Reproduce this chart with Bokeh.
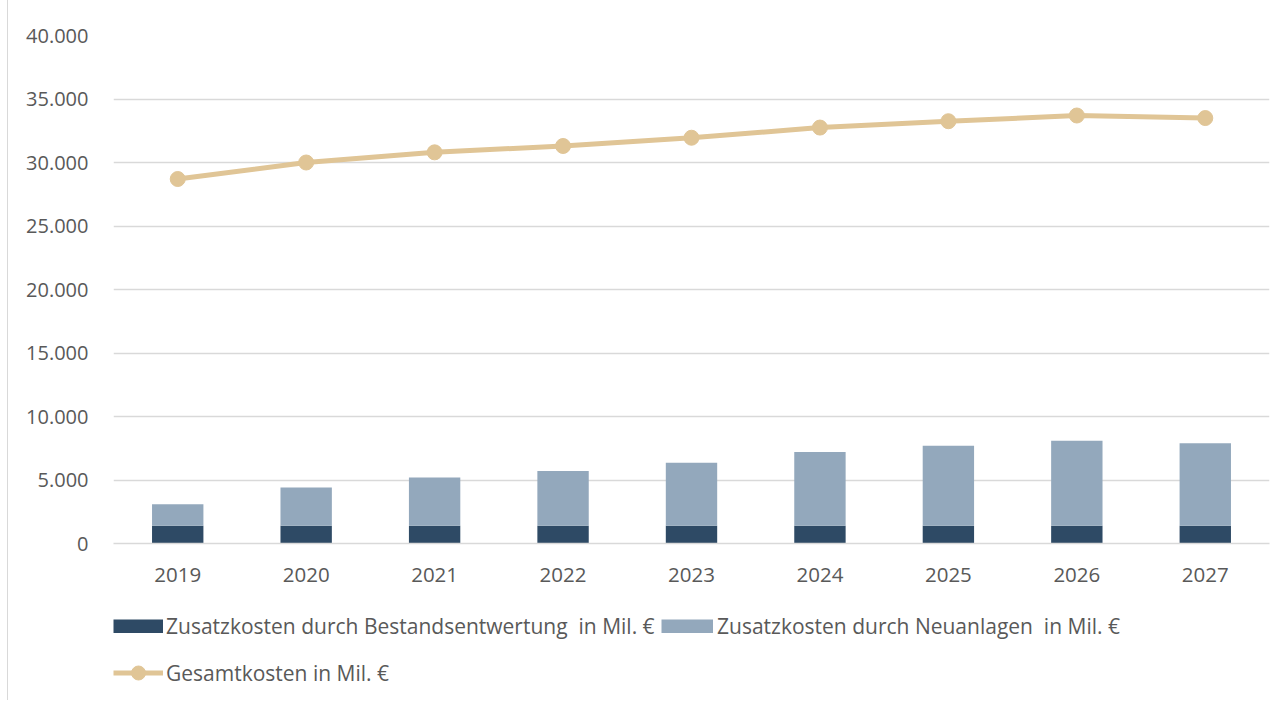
from bokeh.plotting import figure
from bokeh.layouts import column
from bokeh.models import (FactorRange, Range1d, FixedTicker, CustomJSTickFormatter,
                          Legend, LegendItem, ColumnDataSource)
from bokeh.embed import file_html
from bokeh.resources import INLINE

years = ["2019", "2020", "2021", "2022", "2023", "2024", "2025", "2026", "2027"]
bestand = [1400, 1400, 1400, 1400, 1400, 1400, 1400, 1400, 1400]
neu = [1700, 3000, 3800, 4300, 4950, 5800, 6300, 6700, 6500]
gesamt = [28700, 30000, 30800, 31300, 31950, 32750, 33250, 33700, 33500]
y_ticks = [0, 5000, 10000, 15000, 20000, 25000, 30000, 35000, 40000]

label_bestand = "Zusatzkosten durch Bestandsentwertung  in Mil. €"
label_neu = "Zusatzkosten durch Neuanlagen  in Mil. €"
label_ges = "Gesamtkosten in Mil. €"

FONT = "Open Sans"
TXT = "#595959"
DARK = "#2E4A65"
LIGHT = "#93A8BC"
GOLD = "#E0C596"
GRID = "#D9D9D9"
BORDER = {"background": "linear-gradient(to right, transparent 7px, #d9d9d9 7px, #d9d9d9 8px, transparent 8px)"}

src = ColumnDataSource(dict(years=years, bestand=bestand, neu=neu, gesamt=gesamt))

# ---- main chart ----
p = figure(width=1275, height=600, x_range=FactorRange(*years), y_range=Range1d(0, 40000),
           output_backend="svg", toolbar_location=None,
           min_border_left=113, min_border_right=6, min_border_top=35, min_border_bottom=57)
p.outline_line_color = None
p.border_fill_alpha = 0
p.styles = BORDER
p.xgrid.grid_line_color = None
p.ygrid.grid_line_color = GRID
p.ygrid.grid_line_width = 1.3

p.vbar_stack(["bestand", "neu"], x="years", width=0.4, source=src,
             color=[DARK, LIGHT], line_color=None)
p.line(x="years", y="gesamt", source=src, line_color=GOLD, line_width=5)
p.scatter(x="years", y="gesamt", source=src, size=15, marker="circle",
          fill_color=GOLD, line_color=GOLD)

xa = p.xaxis[0]
xa.axis_line_color = GRID
xa.axis_line_width = 1.5
xa.major_tick_line_color = None
xa.minor_tick_line_color = None
xa.major_label_standoff = 18
xa.major_label_text_font = FONT
xa.major_label_text_font_size = "20.5px"
xa.major_label_text_color = TXT

ya = p.yaxis[0]
ya.axis_line_color = None
ya.major_tick_line_color = None
ya.minor_tick_line_color = None
ya.ticker = FixedTicker(ticks=y_ticks)
ya.formatter = CustomJSTickFormatter(
    code="return tick.toFixed(0).replace(/\\B(?=(\\d{3})+(?!\\d))/g, '.');")
ya.major_label_standoff = 19
ya.major_label_text_font = FONT
ya.major_label_text_font_size = "20px"
ya.major_label_text_color = TXT

# ---- legend strip: hidden key renderers of the same series ----
lg_fig = figure(width=1275, height=100, x_range=FactorRange(*years), y_range=Range1d(-2, -1),
                output_backend="svg", toolbar_location=None,
                x_axis_type=None, y_axis_type=None,
                min_border_left=0, min_border_right=0, min_border_top=0, min_border_bottom=0)
lg_fig.outline_line_color = None
lg_fig.border_fill_alpha = 0
lg_fig.background_fill_alpha = 0
lg_fig.styles = BORDER
lg_fig.grid.visible = False

k_b = lg_fig.line(x="years", y="bestand", source=src, line_color=DARK, line_width=14, visible=False)
k_n = lg_fig.line(x="years", y="neu", source=src, line_color=LIGHT, line_width=14, visible=False)
k_l = lg_fig.line(x="years", y="gesamt", source=src, line_color=GOLD, line_width=5, visible=False)
k_d = lg_fig.scatter(x="years", y="gesamt", source=src, marker="circle",
                     fill_color=GOLD, line_color=GOLD, visible=False)


def mk_legend(items, loc, gw, gh, standoff):
    return Legend(items=items, orientation="horizontal", location=loc,
                  glyph_width=gw, glyph_height=gh, label_standoff=standoff, spacing=0,
                  padding=0, margin=0, border_line_color=None, background_fill_alpha=0,
                  label_text_font=FONT, label_text_font_size="21px", label_text_color=TXT,
                  label_height=20)


lg_fig.add_layout(mk_legend([LegendItem(label=label_bestand, renderers=[k_b])],
                            (0, 60), 50, 14, 3), "center")
lg_fig.add_layout(mk_legend([LegendItem(label=label_neu, renderers=[k_n])],
                            (548, 60), 52, 14, 4), "center")
lg_fig.add_layout(mk_legend([LegendItem(label=label_ges, renderers=[k_l, k_d])],
                            (0, 10), 50, 35, 3), "center")

layout = column(p, lg_fig, spacing=0)
open("out.html", "w").write(file_html(layout, INLINE))
